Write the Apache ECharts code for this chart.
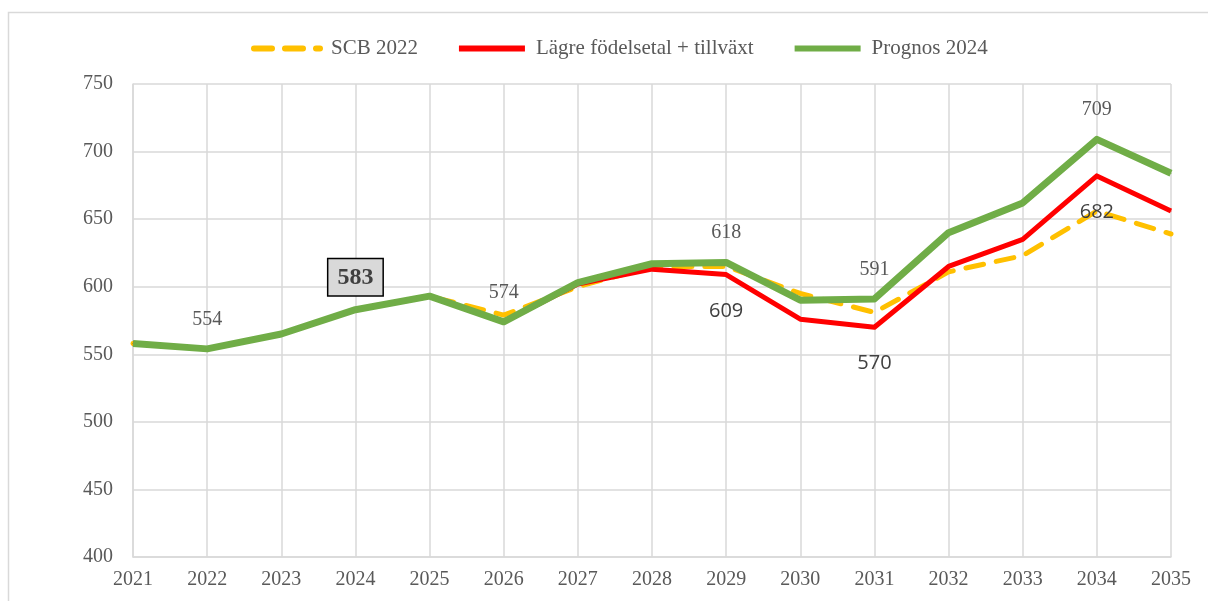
<!DOCTYPE html>
<html>
<head>
<meta charset="utf-8">
<script src="https://cdn.jsdelivr.net/npm/echarts@6/dist/echarts.min.js"></script>
<style>
    html, body { margin: 0; padding: 0; background: #fff; }
    #chart { width: 1208px; height: 601px; }
</style>
</head>
<body>
<div id="chart"></div>
<script>
    // år och serier
    const years = ['2021', '2022', '2023', '2024', '2025', '2026', '2027', '2028',
        '2029', '2030', '2031', '2032', '2033', '2034', '2035'];
    const scb2022 = [558, 554, 565, 583, 593, 579, 600, 615, 615, 595, 581, 611, 623, 656, 639];
    const lagre = [558, 554, 565, 583, 593, 574, 602, 613, 609, 576, 570, 615, 635, 682, 656];
    const prognos = [558, 554, 565, 583, 593, 574, 603, 617, 618, 590, 591, 640, 662, 709, 684];
    const prognosLabels = [1, 3, 5, 8, 10, 13];
    const lagreLabels = [8, 10, 13];
    const boxedIdx = 3;
    const yTicks = { min: 400, max: 750, interval: 50 };

    const serif = '"Liberation Serif", "DejaVu Serif", serif';
    const grey = '#595959';

    let chart = echarts.init(document.getElementById('chart'));

    let prognosData = prognos.map((v, i) => {
        if (i === boxedIdx) {
            return {
                value: v,
                label: {
                    show: true, position: 'top', distance: 14,
                    fontFamily: serif, fontSize: 24, fontWeight: 'bold', color: '#404040',
                    backgroundColor: '#d9d9d9', borderColor: '#000', borderWidth: 1.5,
                    padding: [7, 9, 5, 9]
                }
            }
        }
        if (prognosLabels.includes(i)) {
            return { value: v, label: { show: true } }
        }
        return v
    });
    let lagreData = lagre.map((v, i) => {
        if (lagreLabels.includes(i)) {
            return { value: v, label: { show: true } }
        }
        return v
    });

    chart.setOption({
        animation: false,
        graphic: [{
            type: 'rect',
            shape: { x: 8.5, y: 12.5, width: 1400, height: 800 },
            style: { fill: 'none', stroke: '#d9d9d9', lineWidth: 1.5 },
            silent: true
        }],
        legend: {
            top: 33,
            left: 246,
            itemWidth: 66,
            itemHeight: 8,
            itemGap: 38,
            itemStyle: { opacity: 0 },
            lineStyle: { width: 6 },
            textStyle: { fontFamily: serif, fontSize: 21, color: grey, padding: [0, 0, 0, 6] },
            data: ['SCB 2022', 'Lägre födelsetal + tillväxt', 'Prognos 2024']
        },
        grid: { left: 133, right: 37, top: 84, bottom: 44 },
        xAxis: {
            type: 'category',
            data: years,
            boundaryGap: false,
            axisLine: { lineStyle: { color: '#d9d9d9', width: 1.5 } },
            axisTick: { show: false },
            splitLine: { show: true, lineStyle: { color: '#d9d9d9', width: 1.5 } },
            axisLabel: { fontFamily: serif, fontSize: 20, color: grey, margin: 13 }
        },
        yAxis: {
            type: 'value',
            min: yTicks.min,
            max: yTicks.max,
            interval: yTicks.interval,
            axisLine: { show: true, lineStyle: { color: '#d9d9d9', width: 1.5 } },
            axisTick: { show: false },
            splitLine: { lineStyle: { color: '#d9d9d9', width: 1.5 } },
            axisLabel: { fontFamily: serif, fontSize: 20, color: grey, margin: 20 }
        },
        series: [{
            name: 'SCB 2022',
            type: 'line',
            data: scb2022,
            symbol: 'none',
            z: 2,
            itemStyle: { color: '#ffc000' },
            lineStyle: { color: '#ffc000', width: 5, type: [18, 13], cap: 'round', join: 'round' }
        }, {
            name: 'Lägre födelsetal + tillväxt',
            type: 'line',
            data: lagreData,
            symbol: 'circle',
            symbolSize: 1,
            showSymbol: true,
            z: 3,
            itemStyle: { color: '#ff0000' },
            lineStyle: { color: '#ff0000', width: 5, join: 'round' },
            label: {
                show: false, position: 'bottom', distance: 26,
                fontFamily: '"Open Sans", "Noto Sans", sans-serif', fontSize: 20, color: '#404040'
            }
        }, {
            name: 'Prognos 2024',
            type: 'line',
            data: prognosData,
            symbol: 'circle',
            symbolSize: 1,
            showSymbol: true,
            z: 4,
            itemStyle: { color: '#70ad47' },
            lineStyle: { color: '#70ad47', width: 7, join: 'round' },
            label: {
                show: false, position: 'top', distance: 19,
                fontFamily: serif, fontSize: 20, color: grey
            }
        }]
    });
</script>
</body>
</html>
